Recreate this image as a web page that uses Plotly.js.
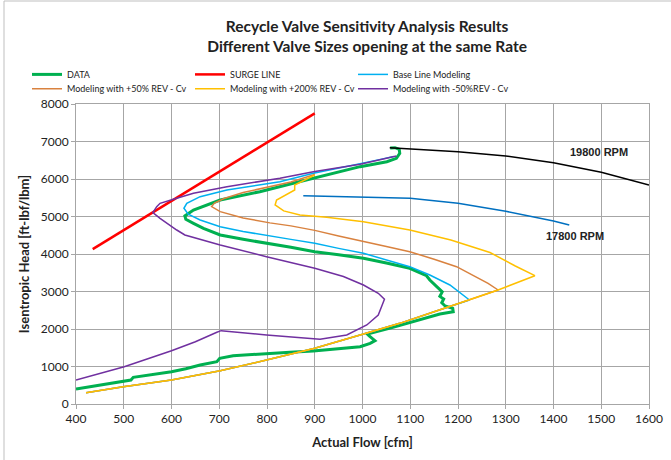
<!DOCTYPE html>
<html>
<head>
<meta charset="utf-8">
<script src="https://cdn.plot.ly/plotly-3.0.1.min.js"></script>
<style>html,body{margin:0;padding:0;background:#fff;}#chart{width:671px;height:460px;}</style>
</head>
<body>
<div id="chart"></div>
<script>
// ---- DATA ----
const dataX = [400,450,501,515,520,560,600,630,660,695,701,729,799,848,897,950,995,1016,1026,1014,1010,1060,1110,1162,1190,1189,1173,1166,1170,1162,1167,1155,1141,1134,1106,1099,1050,1002,950,900,850,806,750,702,667,646,630,628,646,702,785,855,925,995,1051,1071,1078,1077,1068,1058];
const dataY = [400,500,621,640,712,780,862,940,1040,1128,1219,1288,1352,1378,1413,1470,1528,1618,1688,1813,1867,2030,2210,2400,2462,2552,2614,2700,2800,2870,2990,3129,3307,3420,3573,3619,3760,3886,3980,4062,4180,4267,4392,4507,4685,4819,4925,5014,5174,5440,5662,5886,6107,6329,6462,6551,6686,6793,6836,6830];

const surgeX = [435, 900];
const surgeY = [4130, 7750];

const lowerX = [421,499,600,702,799,900,995,1078,1150,1224];
const lowerY = [302,462,640,888,1173,1485,1840,2151,2460,2773];

const baseX = lowerX.concat([1183,1141,1099,1050,1002,950,900,850,800,750,702,660,635,626,632,660,716,785,827,897,950,1000,1040,1065]);
const baseY = lowerY.concat([3173,3440,3662,3850,4019,4150,4285,4390,4490,4600,4729,4907,5060,5219,5352,5529,5707,5840,5929,6152,6300,6420,6530,6600]);

const p50X = lowerX.concat([1284,1263,1230,1197,1150,1099,1050,1002,950,900,850,806,750,702,684,690,710,750,800,850,900]);
const p50Y = lowerY.concat([3040,3219,3450,3662,3860,4062,4200,4329,4480,4630,4750,4830,4960,5129,5263,5360,5480,5640,5780,5920,6120]);

const p200X = lowerX.concat([1284,1361,1320,1267,1185,1099,1002,925,869,835,817,820,858,858,900]);
const p200Y = lowerY.concat([3040,3422,3680,4040,4374,4640,4862,4979,5040,5150,5307,5440,5707,5840,6107]);

const m50X = [400,501,600,650,695,704,799,848,911,967,1009,1033,1040,1046,1033,1002,960,900,799,702,628,611,576,561,569,576,604,646,716,827,897,995,1071];
const m50Y = [640,995,1422,1660,1912,1956,1840,1796,1724,1840,2107,2373,2595,2792,2952,3174,3400,3619,3929,4240,4507,4640,4952,5102,5263,5352,5458,5618,5796,6019,6196,6392,6614];

const rpm19800X = [1057,1100,1200,1300,1400,1500,1600];
const rpm19800Y = [6836,6800,6730,6614,6436,6180,5840];
const rpm17800X = [876,1000,1100,1200,1267,1300,1400,1433];
const rpm17800Y = [5555,5520,5486,5352,5219,5140,4880,4774];

const xTicks = [400,500,600,700,800,900,1000,1100,1200,1300,1400,1500,1600];
const yTicks = [0,1000,2000,3000,4000,5000,6000,7000,8000];

// ---- CHART ----
const traces = [
  {x: dataX, y: dataY, name: 'DATA', mode: 'lines', legend: 'legend', line: {color: '#00B050', width: 3}},
  {x: surgeX, y: surgeY, name: 'SURGE LINE', mode: 'lines', legend: 'legend', line: {color: '#FF0000', width: 2.5}},
  {x: baseX, y: baseY, name: 'Base Line Modeling', mode: 'lines', legend: 'legend', line: {color: '#00B0F0', width: 1.5}},
  {x: p50X, y: p50Y, name: 'Modeling with +50% REV - Cv', mode: 'lines', legend: 'legend2', line: {color: '#D9823F', width: 1.5}},
  {x: p200X, y: p200Y, name: 'Modeling with +200% REV - Cv', mode: 'lines', legend: 'legend2', line: {color: '#FFC000', width: 1.5}},
  {x: m50X, y: m50Y, name: 'Modeling with -50%REV - Cv', mode: 'lines', legend: 'legend2', line: {color: '#7030A0', width: 1.5}},
  {x: rpm19800X, y: rpm19800Y, name: '19800 RPM', mode: 'lines', showlegend: false, line: {color: '#000000', width: 1.5}},
  {x: rpm17800X, y: rpm17800Y, name: '17800 RPM', mode: 'lines', showlegend: false, line: {color: '#0070C0', width: 1.5}}
];

const gridCol = '#A6A6A6';
const legFont = {family: 'Lato, sans-serif', size: 9, color: '#222'};
const legCommon = {
  orientation: 'h', xanchor: 'left', yanchor: 'top',
  entrywidth: 118, entrywidthmode: 'pixels', itemwidth: 30,
  font: legFont, bgcolor: 'rgba(0,0,0,0)'
};
const layout = {
  width: 671, height: 460,
  margin: {l: 76, r: 22, t: 104, b: 56, pad: 0},
  paper_bgcolor: '#fff', plot_bgcolor: '#fff',
  font: {family: 'Lato, "Open Sans", sans-serif', color: '#222', size: 12},
  title: {
    text: '<b>Recycle Valve Sensitivity Analysis Results</b><br><b>Different Valve Sizes opening at the same Rate</b>',
    x: 0.508, xanchor: 'center', xref: 'paper',
    y: 1 - 32/460, yanchor: 'top', yref: 'container',
    font: {family: 'Lato, sans-serif', size: 15.5, color: '#222'}
  },
  xaxis: {
    range: [400, 1600], tickvals: xTicks, ticktext: xTicks.map(String),
    showgrid: true, gridcolor: gridCol, gridwidth: 1,
    showline: true, linecolor: gridCol, mirror: true, zeroline: false,
    ticks: 'outside', ticklen: 4, tickcolor: gridCol,
    tickfont: {size: 12, color: '#222'},
    title: {text: '<b>Actual Flow [cfm]</b>', font: {size: 13, color: '#222'}, standoff: 12}
  },
  yaxis: {
    range: [0, 8000], tickvals: yTicks, ticktext: yTicks.map(String),
    showgrid: true, gridcolor: gridCol, gridwidth: 1,
    showline: true, linecolor: gridCol, mirror: true, zeroline: false,
    ticks: 'outside', ticklen: 4, tickcolor: gridCol,
    tickfont: {size: 12, color: '#222'},
    title: {text: '<b>Isentropic Head [ft-lbf/lbm]</b>', font: {size: 13, color: '#222'}, standoff: 8}
  },
  legend: Object.assign({x: -0.0855, y: 1.147}, legCommon),
  legend2: Object.assign({x: -0.0855, y: 1.099}, legCommon),
  annotations: [
    {x: 1495, y: 6720, xref: 'x', yref: 'y', text: '<b>19800 RPM</b>', showarrow: false,
     font: {family: '"Liberation Sans", Arial, sans-serif', size: 11, color: '#222'}},
    {x: 1445, y: 4480, xref: 'x', yref: 'y', text: '<b>17800 RPM</b>', showarrow: false,
     font: {family: '"Liberation Sans", Arial, sans-serif', size: 11, color: '#222'}}
  ],
  shapes: [
    {type: 'line', xref: 'paper', yref: 'paper', x0: (4-76)/573, x1: (4-76)/573, y0: (404-1)/300, y1: (404-470)/300,
     line: {color: '#BFBFBF', width: 1}},
    {type: 'line', xref: 'paper', yref: 'paper', x0: (4-76)/573, x1: (680-76)/573, y0: (404-1)/300, y1: (404-1)/300,
     line: {color: '#BFBFBF', width: 1}}
  ],
  showlegend: true
};

Plotly.newPlot('chart', traces, layout, {displayModeBar: false, staticPlot: true});
</script>
</body>
</html>
